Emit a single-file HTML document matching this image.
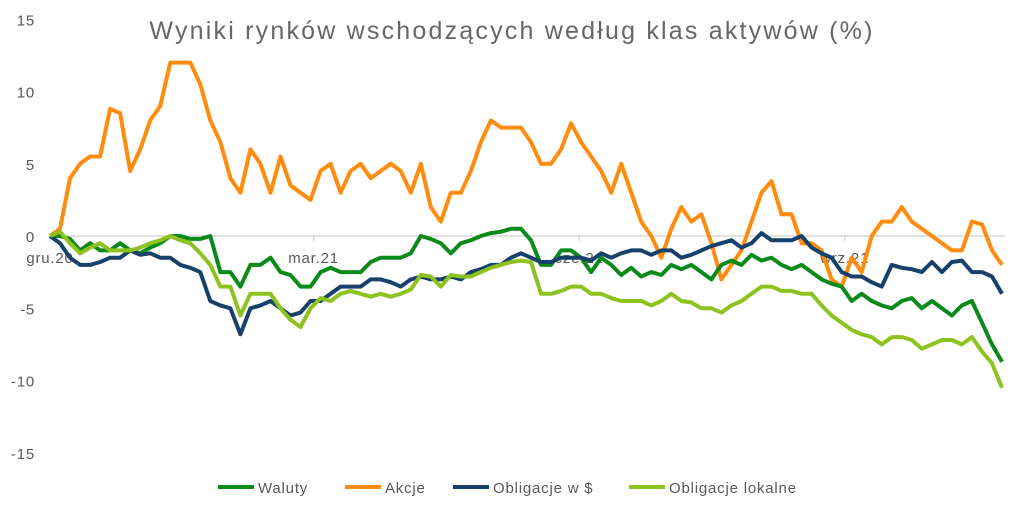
<!DOCTYPE html>
<html><head><meta charset="utf-8"><style>
body{margin:0;background:#fff;}
svg{display:block;font-family:"Liberation Sans",sans-serif;}
</style></head><body>
<svg id="chart" width="1024" height="514">
<text x="512" y="39" text-anchor="middle" font-size="25" letter-spacing="2.2" fill="#666666">Wyniki rynków wschodzących według klas aktywów (%)</text>
<g id="yaxis"></g>
<g id="xaxis"></g>
<g id="series"></g>
<g id="legend"></g>
</svg>
<script>
const yTicks=[15,10,5,0,-5,-10,-15];
const xTickLabels=["gru.20","mar.21","cze.21","wrz.21"];
const xTickIdx=[0,26.3,52.8,79.3];
const waluty=[0,0,-0.2,-1,-0.5,-1,-1,-0.5,-1,-1.2,-0.8,-0.5,0,0,-0.2,-0.2,0,-2.5,-2.5,-3.5,-2,-2,-1.5,-2.5,-2.7,-3.5,-3.5,-2.5,-2.2,-2.5,-2.5,-2.5,-1.8,-1.5,-1.5,-1.5,-1.2,0,-0.2,-0.5,-1.2,-0.5,-0.3,0,0.2,0.3,0.5,0.5,-0.3,-2,-2,-1,-1,-1.5,-2.5,-1.5,-2,-2.7,-2.2,-2.8,-2.5,-2.7,-2,-2.3,-2,-2.5,-3,-2,-1.7,-2,-1.3,-1.7,-1.5,-2,-2.3,-2,-2.5,-3,-3.3,-3.5,-4.5,-4,-4.5,-4.8,-5,-4.5,-4.3,-5,-4.5,-5,-5.5,-4.8,-4.5,-6,-7.5,-8.7];
const akcje=[0,0.5,4,5,5.5,5.5,8.8,8.5,4.5,6,8,9,12,12,12,10.5,8,6.5,4,3,6,5,3,5.5,3.5,3,2.5,4.5,5,3,4.5,5,4,4.5,5,4.5,3,5,2,1,3,3,4.5,6.5,8,7.5,7.5,7.5,6.5,5,5,6,7.8,6.5,5.5,4.5,3,5,3,1,0,-1.5,0.5,2,1,1.5,-0.5,-3,-2,-1,1,3,3.8,1.5,1.5,-0.5,-0.5,-1,-3,-3.5,-1.5,-2.5,0,1,1,2,1,0.5,0,-0.5,-1,-1,1,0.8,-1,-2];
const oblUsd=[0,-0.5,-1.5,-2,-2,-1.8,-1.5,-1.5,-1,-1.3,-1.2,-1.5,-1.5,-2,-2.2,-2.5,-4.5,-4.8,-5,-6.8,-5,-4.8,-4.5,-5,-5.5,-5.3,-4.5,-4.5,-4,-3.5,-3.5,-3.5,-3,-3,-3.2,-3.5,-3,-2.8,-3,-3,-2.8,-3,-2.5,-2.3,-2,-2,-1.5,-1.2,-1.5,-1.8,-1.8,-1.5,-1.5,-1.5,-1.7,-1.2,-1.5,-1.2,-1,-1,-1.3,-1,-1,-1.5,-1.3,-1,-0.7,-0.5,-0.3,-0.8,-0.5,0.2,-0.3,-0.3,-0.3,0,-0.8,-1.2,-1.5,-2.5,-2.8,-2.8,-3.2,-3.5,-2,-2.2,-2.3,-2.5,-1.8,-2.5,-1.8,-1.7,-2.5,-2.5,-2.8,-4];
const oblLok=[0,0.3,-0.5,-1.2,-0.8,-0.5,-1,-1,-1,-0.8,-0.5,-0.3,0,-0.3,-0.5,-1.2,-2,-3.5,-3.5,-5.5,-4,-4,-4,-5,-5.8,-6.3,-5,-4.3,-4.5,-4,-3.8,-4,-4.2,-4,-4.2,-4,-3.7,-2.7,-2.8,-3.5,-2.7,-2.8,-2.8,-2.5,-2.2,-2,-1.8,-1.7,-1.8,-4,-4,-3.8,-3.5,-3.5,-4,-4,-4.3,-4.5,-4.5,-4.5,-4.8,-4.5,-4,-4.5,-4.6,-5,-5,-5.3,-4.8,-4.5,-4,-3.5,-3.5,-3.8,-3.8,-4,-4,-4.8,-5.5,-6,-6.5,-6.8,-7,-7.5,-7,-7,-7.2,-7.8,-7.5,-7.2,-7.2,-7.5,-7,-8,-8.8,-10.5];
const seriesNames=["Waluty","Akcje","Obligacje w $","Obligacje lokalne"];
const seriesColors=["#0b8a1a","#ff8c0f","#17416a","#8dc21f"];
const allSeries=[waluty,akcje,oblUsd,oblLok];
const NS="http://www.w3.org/2000/svg";
const y=v=>236-v*14.45;
const N=waluty.length;
const x=i=>50+i*(1002-50)/(N-1);
function mk(tag,attrs,parent){const e=document.createElementNS(NS,tag);for(const k in attrs)e.setAttribute(k,attrs[k]);parent.appendChild(e);return e;}
const ya=document.getElementById('yaxis');
yTicks.forEach(t=>{const e=mk('text',{x:35,y:y(t)+6,'text-anchor':'end','font-size':15,'letter-spacing':0.8,fill:'#595959'},ya);e.textContent=t;

});
const xa=document.getElementById('xaxis');
const zl=mk('line',{x1:50,x2:1005,y1:y(0),y2:y(0),stroke:'#d9d9d9','stroke-width':1.5},xa);


xTickLabels.forEach((l,k)=>{const xi=x(xTickIdx[k]);
const tk=mk('line',{x1:xi,x2:xi,y1:y(0),y2:y(0)+5,stroke:'#d9d9d9','stroke-width':1.5},xa);


const e=mk('text',{x:xi,y:263,'text-anchor':'middle','font-size':15,'letter-spacing':0.8,fill:'#595959'},xa);e.textContent=l;

});
const sg=document.getElementById('series');
[1,0,2,3].forEach(s=>{const d=allSeries[s].map((v,i)=>(i?'L':'M')+x(i).toFixed(1)+','+y(v).toFixed(1)).join('');
const p=mk('path',{d:d,fill:'none',stroke:seriesColors[s],'stroke-width':4,'stroke-linejoin':'round'},sg);

});
const lg=document.getElementById('legend');
const lx=[218,345,453,629];
seriesNames.forEach((n,s)=>{const g=mk('g',{},lg);


mk('line',{x1:lx[s],x2:lx[s]+36,y1:487,y2:487,stroke:seriesColors[s],'stroke-width':4},g);
const t=mk('text',{x:lx[s]+40,y:493,'font-size':15,'letter-spacing':0.8,fill:'#595959'},g);t.textContent=n;});
</script>
</body></html>
